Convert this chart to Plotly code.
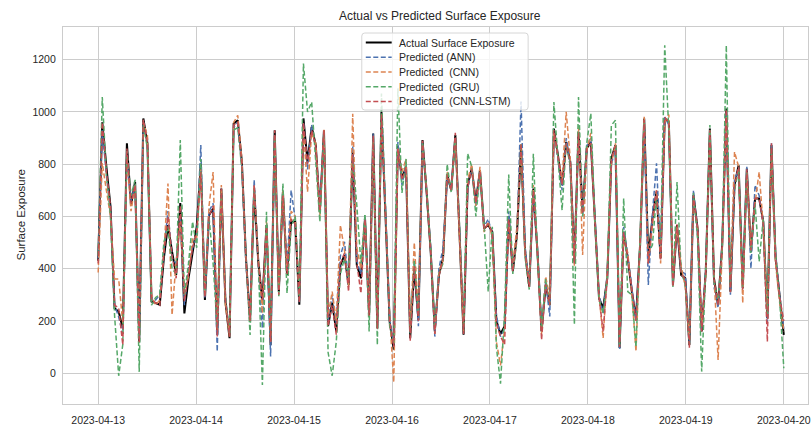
import pandas as pd
import plotly.graph_objects as go

start_date = "2023-04-13 00:00"
end_date = "2023-04-20 00:00"

actual = [430,960,790,640,248,235,172,880,643,733,120,975,880,274,268,262,440,567,465,376,651,229,363,465,
          560,800,280,605,630,147,707,274,134,955,968,809,440,197,700,427,274,567,108,930,312,694,376,580,
          580,262,975,809,943,873,618,930,180,270,160,414,452,338,847,414,363,592,223,917,172,1000,618,197,
          90,870,745,790,134,400,204,892,694,465,160,376,440,760,700,911,541,147,720,783,656,777,554,567,
          541,200,150,180,600,390,530,870,465,330,707,465,160,338,261,936,834,720,885,809,427,924,618,860,
          885,592,287,248,363,822,873,96,541,440,312,210,490,975,440,592,694,440,975,962,338,567,376,363,
          108,682,554,160,389,936,363,261,490,1013,312,720,796,325,783,465,669,669,580,210,873,440,287,147]

pred_ann = [440,930,760,620,260,215,150,820,660,720,130,960,900,290,280,300,470,620,440,420,600,260,400,480,
            520,873,290,620,650,83,690,290,150,940,960,800,420,210,740,410,172,560,64,910,330,680,400,700,
            590,270,960,780,950,860,640,910,200,300,190,450,503,350,870,430,380,600,230,917,190,990,630,210,
            110,885,720,800,150,430,180,880,700,480,140,400,480,740,710,900,560,170,700,790,640,770,560,590,
            530,220,140,170,620,400,520,1040,480,340,690,480,170,350,217,920,820,700,900,800,440,900,600,870,
            900,600,300,230,380,800,860,90,560,450,330,200,480,960,338,610,803,460,980,950,350,560,390,380,
            120,700,540,170,400,920,330,250,500,1000,300,740,780,340,790,401,720,680,570,190,880,460,300,170]

pred_cnn = [385,804,700,600,360,360,190,830,620,720,160,960,910,300,260,280,460,726,223,430,580,300,370,520,
            520,780,300,640,770,160,720,260,140,960,987,820,430,200,720,440,230,580,120,910,320,700,390,620,
            600,280,940,694,920,880,600,936,220,312,200,567,470,330,993,480,400,580,240,890,180,980,600,220,
            -35,860,770,820,160,500,230,880,710,470,150,390,430,770,700,900,520,160,740,800,640,790,540,580,
            520,120,30,170,580,420,560,860,450,360,720,470,150,370,290,920,830,740,1000,820,410,940,452,850,
            920,570,300,134,390,800,880,120,520,460,300,83,500,981,420,560,700,420,960,990,360,560,410,330,
            130,660,560,180,370,920,380,51,470,980,330,847,790,268,770,480,650,771,560,230,860,420,270,160]

pred_gru = [450,1057,760,600,220,-10,110,850,680,740,5,950,860,260,290,300,500,560,400,380,892,300,420,580,
            480,820,300,600,420,170,690,290,150,930,940,780,450,146,710,430,-45,618,140,900,290,726,306,560,
            600,290,1185,1000,1038,820,580,920,80,-10,120,380,440,370,820,643,420,610,160,900,108,1070,640,180,
            110,1090,690,820,150,430,220,880,700,470,170,380,420,800,690,900,570,170,841,790,600,760,570,312,
            560,100,-40,230,760,380,510,880,440,320,840,450,170,360,260,1038,820,624,880,790,185,1057,600,880,
            994,580,280,230,360,949,968,100,669,312,300,100,520,960,460,490,680,490,1255,930,330,732,390,340,
            110,690,520,6,400,950,350,280,480,1255,330,700,780,330,770,460,650,427,590,220,860,460,280,19]

pred_cnn_lstm = [420,960,770,640,260,250,108,860,650,720,117,970,880,280,270,260,460,600,450,363,640,274,380,480,
                 540,770,290,600,640,140,707,280,140,950,960,800,440,200,720,420,280,560,120,930,300,680,380,590,
                 570,270,960,800,930,870,620,930,180,260,147,420,460,312,840,420,306,590,220,910,170,990,610,200,
                 100,860,740,790,122,410,200,890,690,460,150,370,440,760,700,920,540,150,710,780,650,770,550,570,
                 540,190,140,110,590,390,520,880,460,330,700,460,127,340,260,930,830,720,880,810,420,920,610,860,
                 880,590,290,160,360,820,870,100,540,440,310,200,490,970,420,590,700,430,980,960,330,570,380,360,
                 96,680,550,160,390,930,360,260,490,1010,310,720,790,320,780,470,670,670,570,121,880,440,290,200]

series_names = ["Actual Surface Exposure", "Predicted (ANN)", "Predicted  (CNN)",
                "Predicted  (GRU)", "Predicted  (CNN-LSTM)"]
x_tick_labels = ["2023-04-13", "2023-04-14", "2023-04-15", "2023-04-16",
                 "2023-04-17", "2023-04-18", "2023-04-19", "2023-04-20"]
y_tick_values = [0, 200, 400, 600, 800, 1000, 1200]

dates = pd.date_range(start=start_date, end=end_date, periods=len(actual))

colors = ["#000000", "#4C72B0", "#DD8452", "#55A868", "#C44E52"]
all_series = [actual, pred_ann, pred_cnn, pred_gru, pred_cnn_lstm]

FONT = "Liberation Sans, Arial, sans-serif"
TXT = "#262626"
GRID = "#cccccc"
DASH = "5px,2.5px"

# plot area in pixels
L, R, T, B = 63, 811, 27, 404
W, H = R - L, B - T


def px(xp):
    return (xp - L) / W


def py(yp):
    return 1 - (yp - T) / H


fig = go.Figure()
for i, (name, vals) in enumerate(zip(series_names, all_series)):
    if i == 0:
        line = dict(color=colors[i], width=2)
    else:
        line = dict(color=colors[i], width=1.5, dash=DASH)
    fig.add_trace(go.Scatter(x=dates, y=vals, mode="lines", name=name, line=line,
                             showlegend=False))

# legend drawn in matplotlib style
lx0, lx1, ly0, ly1, rad = 363, 530, 33, 110, 3
shapes = [dict(
    type="path", xref="paper", yref="paper",
    path=(f"M {px(lx0+rad)},{py(ly0)} L {px(lx1-rad)},{py(ly0)} "
          f"Q {px(lx1)},{py(ly0)} {px(lx1)},{py(ly0+rad)} "
          f"L {px(lx1)},{py(ly1-rad)} Q {px(lx1)},{py(ly1)} {px(lx1-rad)},{py(ly1)} "
          f"L {px(lx0+rad)},{py(ly1)} Q {px(lx0)},{py(ly1)} {px(lx0)},{py(ly1-rad)} "
          f"L {px(lx0)},{py(ly0+rad)} Q {px(lx0)},{py(ly0)} {px(lx0+rad)},{py(ly0)} Z"),
    line=dict(color="#d6d6d6", width=1), fillcolor="rgba(255,255,255,0.8)", layer="above")]
annotations = []
row_y = [42.5, 57.3, 72.0, 86.8, 101.5]
for i, name in enumerate(series_names):
    yy = py(row_y[i])
    if i == 0:
        ln = dict(color=colors[i], width=2)
    else:
        ln = dict(color=colors[i], width=1.5, dash=DASH)
    shapes.append(dict(type="line", xref="paper", yref="paper",
                       x0=px(367), x1=px(393), y0=yy, y1=yy, line=ln, layer="above"))
    annotations.append(dict(text=name, xref="paper", yref="paper", x=px(398), y=yy,
                            xanchor="left", yanchor="middle", showarrow=False,
                            font=dict(size=10.5, family=FONT, color=TXT)))

annotations += [
    dict(text="Actual vs Predicted Surface Exposure", xref="paper", yref="paper",
         x=px(442), y=1, yshift=2, xanchor="center", yanchor="bottom",
         showarrow=False, font=dict(size=12, family=FONT, color=TXT)),
    dict(text="Date", xref="paper", yref="paper",
         x=px(442), y=0, yshift=-24, xanchor="center", yanchor="top",
         showarrow=False, font=dict(size=11.5, family=FONT, color=TXT)),
    dict(text="Surface Exposure", xref="paper", yref="paper",
         x=0, xshift=-43, y=0.5, xanchor="center", yanchor="middle", textangle=-90,
         showarrow=False, font=dict(size=11.5, family=FONT, color=TXT)),
]

fig.update_layout(
    width=811, height=432,
    margin=dict(l=L, r=0, t=T, b=432 - B),
    paper_bgcolor="white", plot_bgcolor="white",
    font=dict(family=FONT, color=TXT, size=10.5),
    showlegend=False,
    shapes=shapes,
    annotations=annotations,
)

fig.update_xaxes(
    type="date",
    range=["2023-04-12 15:23", "2023-04-20 05:56"],
    tickvals=pd.to_datetime(x_tick_labels), ticktext=x_tick_labels,
    showgrid=True, gridcolor=GRID, gridwidth=1,
    showline=True, linecolor=GRID, linewidth=1.2, mirror=True,
    ticks="", ticklen=0, zeroline=False, ticklabelstandoff=6,
    ticklabeloverflow="allow",
    tickfont=dict(size=10.5, family=FONT, color=TXT),
)
fig.update_yaxes(
    range=[-118, 1325],
    tickvals=y_tick_values,
    showgrid=True, gridcolor=GRID, gridwidth=1,
    showline=True, linecolor=GRID, linewidth=1.2, mirror=True,
    ticks="", zeroline=False, ticklabelstandoff=4,
    tickfont=dict(size=10.5, family=FONT, color=TXT),
)

fig.write_html("out.html")
